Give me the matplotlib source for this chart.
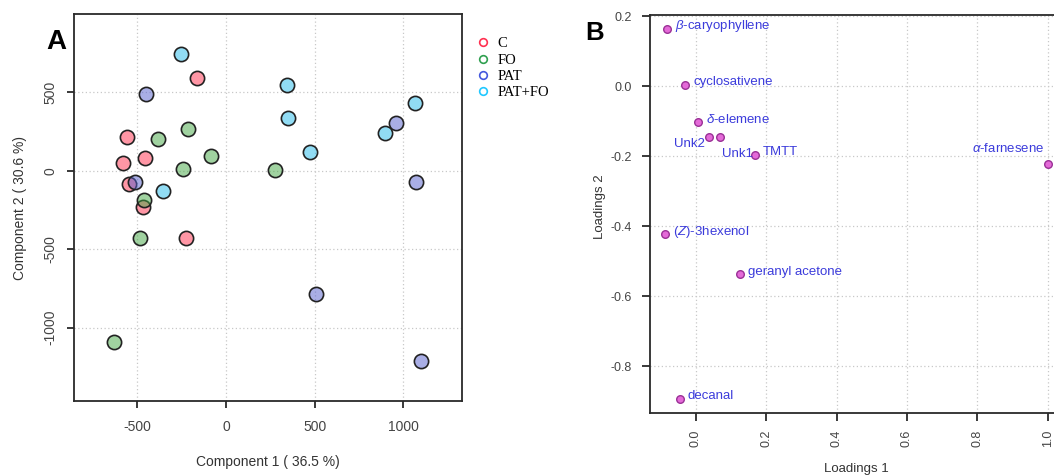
import matplotlib

matplotlib.use("Agg")
import matplotlib.pyplot as plt
from matplotlib.lines import Line2D

plt.rcParams["font.family"] = ["Liberation Sans", "DejaVu Sans"]
plt.rcParams["mathtext.fontset"] = "custom"
plt.rcParams["mathtext.rm"] = "Liberation Sans"
plt.rcParams["mathtext.it"] = "Liberation Sans:italic"

# --- panel A: PCA scores per group ---
groups = ["C", "FO", "PAT", "PAT+FO"]
c_x = [-165, -558, -579, -457, -545, -470, -227]
c_y = [594, 215, 49, 81, -83, -228, -428]
fo_x = [-382, -216, -85, -241, 276, -461, -483, -630]
fo_y = [200, 264, 91, 11, 2, -185, -426, -1094]
pat_x = [-453, -513, 959, 1071, 509, 1102]
pat_y = [487, -74, 306, -70, -785, -1213]
patfo_x = [-254, 346, 350, 474, 1064, 897, -355]
patfo_y = [745, 545, 334, 117, 434, 240, -126]
score_ticks = [-500, 0, 500, 1000]
score_yticks = [-1000, -500, 0, 500]

# --- panel B: loadings ---
compounds = [
    r"$\beta$-caryophyllene",
    "cyclosativene",
    r"$\delta$-elemene",
    "Unk2",
    "Unk1",
    "TMTT",
    "($Z$)-3hexenol",
    "geranyl acetone",
    "decanal",
    r"$\alpha$-farnesene",
]
load1 = [-0.083, -0.030, 0.006, 0.039, 0.070, 0.169, -0.086, 0.126, -0.045, 1.000]
load2 = [0.164, 0.005, -0.102, -0.146, -0.144, -0.195, -0.423, -0.536, -0.893, -0.222]
load_xticks = [0.0, 0.2, 0.4, 0.6, 0.8, 1.0]
load_yticks = [-0.8, -0.6, -0.4, -0.2, 0.0, 0.2]

# label placement (pixels from point, alignment)
label_offsets = [
    ((8, 2.5), "left"),
    ((8, 2.5), "left"),
    ((8, 2.5), "left"),
    ((-5, -6.5), "right"),
    ((33, -17.5), "right"),
    ((8, 2.5), "left"),
    ((8, 2), "left"),
    ((8, 2), "left"),
    ((8, 2.5), "left"),
    ((-3, 15.5), "right"),
]

W, H = 1054, 475
GROUP_COLORS = {
    "C": (1.0, 0.18, 0.30),
    "FO": (0.26, 0.65, 0.26),
    "PAT": (0.33, 0.37, 0.80),
    "PAT+FO": (0.14, 0.73, 0.92),
}
LEGEND_COLORS = {"C": "#ff3050", "FO": "#30a050", "PAT": "#4458dd", "PAT+FO": "#20c8ff"}
GRID_KW = dict(color="#c8c8c8", linestyle=(0, (1, 2)), linewidth=0.9)
SPINE = "#2a2a2a"
TICK_TEXT = "#444444"


def px_rect(left, top, right, bottom):
    return [left / W, 1 - bottom / H, (right - left) / W, (bottom - top) / H]


def style_box(ax):
    for spine in ax.spines.values():
        spine.set_color(SPINE)
        spine.set_linewidth(1.3)
    ax.grid(True, **GRID_KW)
    ax.set_axisbelow(True)


def plot_scores(fig):
    ax = fig.add_axes(px_rect(74, 14, 462, 401))
    series = {
        "C": (c_x, c_y),
        "FO": (fo_x, fo_y),
        "PAT": (pat_x, pat_y),
        "PAT+FO": (patfo_x, patfo_y),
    }
    for name in groups:
        xs, ys = series[name]
        r, g, b = GROUP_COLORS[name]
        ax.scatter(xs, ys, s=105, facecolor=(r, g, b, 0.5), edgecolor="#222222",
                   linewidths=1.2, zorder=3)

    ax.set_xlim(-857, 1331)
    ax.set_ylim(-1467, 999)
    ax.set_xticks(score_ticks)
    ax.set_yticks(score_yticks)
    ax.set_xticklabels([str(v) for v in score_ticks])
    ax.set_yticklabels([str(v) for v in score_yticks], rotation=90, va="center")
    ax.tick_params(axis="both", length=5, width=1.3, color=SPINE, labelsize=10,
                   labelcolor=TICK_TEXT)
    ax.tick_params(axis="x", pad=9)
    ax.tick_params(axis="y", pad=7)
    style_box(ax)

    ax.set_xlabel("Component 1 ( 36.5 %)", fontsize=10, color="#333333", va="center")
    ax.xaxis.set_label_coords(0.5, -0.157)
    ax.set_ylabel("Component 2 ( 30.6 %)", fontsize=10, color="#333333", va="center")
    ax.yaxis.set_label_coords(-0.138, 0.5)

    handles = [
        Line2D([], [], linestyle="none", marker="o", markersize=5.5, markerfacecolor="none",
               markeredgecolor=LEGEND_COLORS[name], markeredgewidth=1.2)
        for name in groups
    ]
    fig.legend(handles, groups, loc="upper left", bbox_to_anchor=(477 / W, 1 - 37 / H),
               frameon=False, prop={"family": "Liberation Serif", "size": 10.5},
               handlelength=0.8, handletextpad=0.6, labelspacing=0.22,
               borderpad=0, borderaxespad=0)


def plot_loadings(fig):
    ax = fig.add_axes(px_rect(650, 15, 1066, 413.3))
    ax.scatter(load1, load2, s=30, facecolor="#e46ad8", edgecolor="#9a3096",
               linewidths=1.0, zorder=3)
    for name, x, y, (offset, align) in zip(compounds, load1, load2, label_offsets):
        ax.annotate(name, (x, y), xytext=offset, textcoords="offset pixels",
                    ha=align, va="center", fontsize=9.5, color="#3b3bdb", zorder=4)

    ax.set_xlim(-0.13, 1.052)
    ax.set_ylim(-0.934, 0.2037)
    ax.set_xticks(load_xticks)
    ax.set_yticks(load_yticks)
    ax.set_xticklabels([f"{v:.1f}" for v in load_xticks], rotation=90)
    ax.set_yticklabels([f"{v:.1f}" for v in load_yticks])
    ax.tick_params(axis="both", length=6, width=1.3, color=SPINE, labelsize=9,
                   labelcolor=TICK_TEXT)
    ax.tick_params(axis="x", pad=6)
    ax.tick_params(axis="y", pad=7)
    style_box(ax)

    ax.set_xlabel("Loadings 1", fontsize=9.5, color="#333333", va="center")
    ax.xaxis.set_label_coords(0.497, -0.14)
    ax.set_ylabel("Loadings 2", fontsize=9.5, color="#333333", va="center")
    ax.yaxis.set_label_coords(-0.12, 0.519)


def main() -> int:
    fig = plt.figure(figsize=(W / 100, H / 100), dpi=100)
    plot_scores(fig)
    plot_loadings(fig)
    fig.text(56 / W, 1 - 42 / H, "A", fontsize=20, fontweight="bold", ha="center", va="center")
    fig.text(594.5 / W, 1 - 33 / H, "B", fontsize=18.5, fontweight="bold", ha="center", va="center")
    fig.savefig("out.png", dpi=100)
    plt.close(fig)
    return 0


if __name__ == "__main__":
    raise SystemExit(main())
